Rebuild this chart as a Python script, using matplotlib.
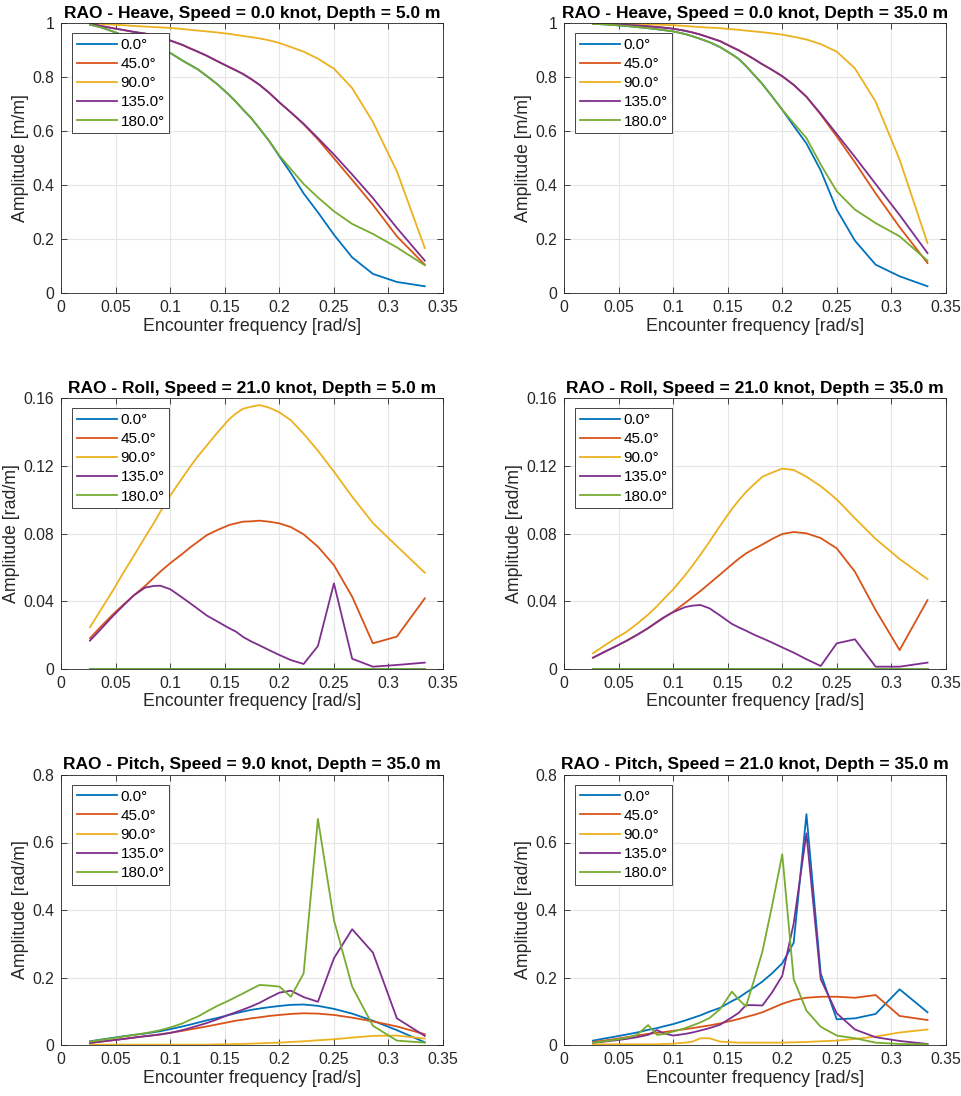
import matplotlib
matplotlib.use("Agg")
import matplotlib.pyplot as plt
from matplotlib.ticker import FixedLocator

plt.rcParams['font.family'] = ['Liberation Sans', 'DejaVu Sans']

freq = [0.0263, 0.0364, 0.0471, 0.0571, 0.0667, 0.0769, 0.0851, 0.0909, 0.1000,
        0.1111, 0.1176, 0.1250, 0.1333, 0.1429, 0.1538, 0.1600, 0.1667, 0.1739,
        0.1818, 0.1905, 0.2000, 0.2105, 0.2222, 0.2353, 0.2500, 0.2667, 0.2857,
        0.3077, 0.3333]

headings = ["0.0°", "45.0°", "90.0°", "135.0°", "180.0°"]
colors = ["#0072BD", "#D95319", "#EDB120", "#7E2F8E", "#77AC30"]

# ---- Heave, 0 knot, depth 5 m ----
heave5_0 = [0.995, 0.985, 0.97, 0.955, 0.94, 0.925, 0.912, 0.905, 0.89, 0.862, 0.847, 0.83,
            0.805, 0.775, 0.735, 0.71, 0.68, 0.65, 0.61, 0.565, 0.507, 0.445, 0.37, 0.30,
            0.217, 0.133, 0.072, 0.042, 0.026]
heave5_45 = [1.0, 0.99, 0.982, 0.975, 0.968, 0.962, 0.955, 0.948, 0.936, 0.92, 0.908, 0.895,
             0.88, 0.86, 0.838, 0.826, 0.812, 0.794, 0.772, 0.743, 0.707, 0.67, 0.626, 0.57,
             0.50, 0.42, 0.328, 0.211, 0.106]
heave5_90 = [1.0, 0.998, 0.995, 0.993, 0.99, 0.988, 0.986, 0.985, 0.983, 0.979, 0.976, 0.973,
             0.97, 0.966, 0.961, 0.957, 0.953, 0.949, 0.944, 0.937, 0.927, 0.912, 0.895, 0.869,
             0.832, 0.76, 0.635, 0.452, 0.168]
heave5_135 = [1.0, 0.99, 0.982, 0.975, 0.968, 0.962, 0.955, 0.948, 0.936, 0.92, 0.908, 0.895,
              0.88, 0.86, 0.838, 0.826, 0.812, 0.794, 0.772, 0.743, 0.707, 0.67, 0.628, 0.575,
              0.514, 0.44, 0.353, 0.242, 0.121]
heave5_180 = [0.995, 0.985, 0.97, 0.955, 0.94, 0.925, 0.912, 0.905, 0.89, 0.862, 0.847, 0.83,
              0.805, 0.775, 0.735, 0.71, 0.68, 0.65, 0.61, 0.565, 0.51, 0.46, 0.405, 0.355,
              0.304, 0.257, 0.22, 0.17, 0.104]

# ---- Heave, 0 knot, depth 35 m ----
heave35_0 = [0.998, 0.996, 0.993, 0.99, 0.986, 0.982, 0.978, 0.975, 0.97, 0.96, 0.952, 0.942,
             0.93, 0.912, 0.885, 0.868, 0.842, 0.81, 0.775, 0.73, 0.68, 0.62, 0.555, 0.455,
             0.31, 0.195, 0.106, 0.063, 0.026]
heave35_45 = [1.0, 0.998, 0.996, 0.994, 0.992, 0.989, 0.986, 0.984, 0.98, 0.972, 0.966, 0.958,
              0.947, 0.934, 0.912, 0.9, 0.885, 0.868, 0.848, 0.828, 0.804, 0.772, 0.728, 0.662,
              0.581, 0.485, 0.37, 0.245, 0.112]
heave35_90 = [1.0, 1.0, 0.999, 0.998, 0.997, 0.996, 0.995, 0.994, 0.993, 0.99, 0.988, 0.986,
              0.984, 0.982, 0.978, 0.976, 0.973, 0.97, 0.967, 0.963, 0.958, 0.95, 0.94, 0.923,
              0.895, 0.833, 0.71, 0.495, 0.186]
heave35_135 = [1.0, 0.998, 0.996, 0.994, 0.992, 0.989, 0.986, 0.984, 0.98, 0.972, 0.966, 0.958,
               0.947, 0.934, 0.912, 0.9, 0.885, 0.868, 0.848, 0.828, 0.804, 0.772, 0.728, 0.665,
               0.59, 0.505, 0.405, 0.29, 0.149]
heave35_180 = [0.998, 0.996, 0.993, 0.99, 0.986, 0.982, 0.978, 0.975, 0.97, 0.96, 0.952, 0.942,
               0.93, 0.912, 0.885, 0.868, 0.842, 0.81, 0.775, 0.73, 0.68, 0.63, 0.575, 0.477,
               0.378, 0.31, 0.26, 0.211, 0.121]

# ---- Roll, 21 knot, depth 5 m ----
roll5_0 = [0.0] * 29
roll5_45 = [0.018, 0.025, 0.032, 0.038, 0.0435, 0.049, 0.054, 0.0575, 0.0625, 0.068, 0.0715,
            0.075, 0.079, 0.082, 0.085, 0.086, 0.087, 0.0872, 0.0876, 0.087, 0.086, 0.0838,
            0.0795, 0.0722, 0.0613, 0.0426, 0.015, 0.019, 0.0416]
roll5_90 = [0.0245, 0.035, 0.046, 0.057, 0.067, 0.078, 0.0865, 0.093, 0.1025, 0.113, 0.119,
            0.1255, 0.132, 0.1395, 0.1475, 0.151, 0.1538, 0.155, 0.156, 0.1545, 0.1517, 0.147,
            0.139, 0.129, 0.1166, 0.1018, 0.0862, 0.0725, 0.0568]
roll5_135 = [0.0166, 0.0235, 0.031, 0.0375, 0.0435, 0.048, 0.049, 0.0491, 0.047, 0.042, 0.039,
             0.0355, 0.0315, 0.028, 0.024, 0.022, 0.0188, 0.0162, 0.0138, 0.011, 0.0081,
             0.0051, 0.0028, 0.0134, 0.0505, 0.0059, 0.0012, 0.0022, 0.0036]
roll5_180 = [0.0] * 29

# ---- Roll, 21 knot, depth 35 m ----
roll35_0 = [0.0] * 29
roll35_45 = [0.0065, 0.0098, 0.0132, 0.0165, 0.02, 0.024, 0.0275, 0.03, 0.0337, 0.039, 0.0423,
             0.046, 0.0505, 0.0557, 0.0617, 0.065, 0.0682, 0.0708, 0.0735, 0.0767, 0.0797,
             0.0809, 0.0801, 0.0773, 0.0712, 0.0574, 0.0347, 0.011, 0.0406]
roll35_90 = [0.0091, 0.0135, 0.018, 0.0218, 0.0265, 0.032, 0.037, 0.041, 0.047, 0.0555, 0.061,
             0.0675, 0.0752, 0.0845, 0.0945, 0.0995, 0.1045, 0.109, 0.1136, 0.116, 0.1184,
             0.1176, 0.1136, 0.108, 0.1002, 0.089, 0.0768, 0.0649, 0.053]
roll35_135 = [0.0065, 0.0098, 0.0132, 0.0165, 0.02, 0.024, 0.0277, 0.0302, 0.0335, 0.0365,
              0.0373, 0.0377, 0.0357, 0.0315, 0.0265, 0.0245, 0.0225, 0.0202, 0.018, 0.0155,
              0.0126, 0.0095, 0.0056, 0.0016, 0.015, 0.0174, 0.0012, 0.0012, 0.0036]
roll35_180 = [0.0] * 29

# ---- Pitch, 9 knot, depth 35 m ----
pitch9_0 = [0.011, 0.016, 0.021, 0.026, 0.03, 0.034, 0.038, 0.041, 0.047, 0.055, 0.06, 0.066,
            0.073, 0.08, 0.089, 0.094, 0.099, 0.104, 0.108, 0.112, 0.1156, 0.119, 0.12, 0.116,
            0.107, 0.093, 0.072, 0.044, 0.008]
pitch9_45 = [0.006, 0.01, 0.014, 0.018, 0.022, 0.026, 0.029, 0.032, 0.036, 0.042, 0.046, 0.05,
             0.055, 0.061, 0.068, 0.072, 0.075, 0.079, 0.082, 0.086, 0.089, 0.092, 0.094,
             0.093, 0.089, 0.081, 0.07, 0.055, 0.032]
pitch9_90 = [0.001, 0.001, 0.001, 0.001, 0.001, 0.001, 0.001, 0.001, 0.001, 0.001, 0.001,
             0.001, 0.001, 0.002, 0.002, 0.003, 0.003, 0.004, 0.005, 0.006, 0.007, 0.009,
             0.011, 0.014, 0.017, 0.022, 0.027, 0.028, 0.019]
pitch9_135 = [0.006, 0.01, 0.014, 0.018, 0.022, 0.026, 0.029, 0.031, 0.036, 0.044, 0.05, 0.057,
              0.065, 0.076, 0.09, 0.097, 0.105, 0.114, 0.125, 0.14, 0.155, 0.161, 0.142,
              0.128, 0.257, 0.343, 0.274, 0.079, 0.027]
pitch9_180 = [0.01, 0.015, 0.02, 0.025, 0.03, 0.035, 0.04, 0.044, 0.052, 0.064, 0.074, 0.084,
              0.099, 0.1156, 0.132, 0.142, 0.153, 0.165, 0.178, 0.176, 0.173, 0.143, 0.212,
              0.67, 0.37, 0.173, 0.057, 0.013, 0.007]

# ---- Pitch, 21 knot, depth 35 m ----
pitch21_0 = [0.013, 0.019, 0.025, 0.031, 0.037, 0.045, 0.05, 0.055, 0.062, 0.073, 0.08, 0.088,
             0.099, 0.11, 0.13, 0.14, 0.155, 0.17, 0.188, 0.212, 0.242, 0.303, 0.684, 0.212,
             0.076, 0.079, 0.092, 0.165, 0.097]
pitch21_45 = [0.009, 0.013, 0.018, 0.023, 0.028, 0.033, 0.036, 0.038, 0.042, 0.047, 0.05,
              0.054, 0.058, 0.064, 0.072, 0.077, 0.083, 0.089, 0.097, 0.109, 0.122, 0.133,
              0.14, 0.143, 0.143, 0.14, 0.148, 0.086, 0.074]
pitch21_90 = [0.002, 0.002, 0.002, 0.002, 0.002, 0.002, 0.002, 0.003, 0.004, 0.007, 0.01,
              0.02, 0.02, 0.01, 0.008, 0.007, 0.007, 0.007, 0.007, 0.007, 0.007, 0.008, 0.009,
              0.011, 0.013, 0.018, 0.025, 0.037, 0.046]
pitch21_135 = [0.007, 0.01, 0.014, 0.018, 0.023, 0.03, 0.044, 0.035, 0.028, 0.033, 0.037,
               0.043, 0.05, 0.06, 0.082, 0.095, 0.118, 0.118, 0.117, 0.155, 0.205, 0.36,
               0.627, 0.195, 0.094, 0.046, 0.023, 0.012, 0.003]
pitch21_180 = [0.007, 0.011, 0.016, 0.021, 0.03, 0.059, 0.03, 0.032, 0.04, 0.05, 0.058, 0.067,
               0.08, 0.106, 0.158, 0.135, 0.114, 0.19, 0.277, 0.41, 0.565, 0.195, 0.102, 0.054,
               0.028, 0.02, 0.007, 0.003, 0.002]

panels = [
    ("RAO - Heave, Speed = 0.0 knot, Depth = 5.0 m", "Amplitude [m/m]",
     [heave5_0, heave5_45, heave5_90, heave5_135, heave5_180],
     [0, 0.2, 0.4, 0.6, 0.8, 1], ["0", "0.2", "0.4", "0.6", "0.8", "1"], 1.0),
    ("RAO - Heave, Speed = 0.0 knot, Depth = 35.0 m", "Amplitude [m/m]",
     [heave35_0, heave35_45, heave35_90, heave35_135, heave35_180],
     [0, 0.2, 0.4, 0.6, 0.8, 1], ["0", "0.2", "0.4", "0.6", "0.8", "1"], 1.0),
    ("RAO - Roll, Speed = 21.0 knot, Depth = 5.0 m", "Amplitude [rad/m]",
     [roll5_0, roll5_45, roll5_90, roll5_135, roll5_180],
     [0, 0.04, 0.08, 0.12, 0.16], ["0", "0.04", "0.08", "0.12", "0.16"], 0.16),
    ("RAO - Roll, Speed = 21.0 knot, Depth = 35.0 m", "Amplitude [rad/m]",
     [roll35_0, roll35_45, roll35_90, roll35_135, roll35_180],
     [0, 0.04, 0.08, 0.12, 0.16], ["0", "0.04", "0.08", "0.12", "0.16"], 0.16),
    ("RAO - Pitch, Speed = 9.0 knot, Depth = 35.0 m", "Amplitude [rad/m]",
     [pitch9_0, pitch9_45, pitch9_90, pitch9_135, pitch9_180],
     [0, 0.2, 0.4, 0.6, 0.8], ["0", "0.2", "0.4", "0.6", "0.8"], 0.8),
    ("RAO - Pitch, Speed = 21.0 knot, Depth = 35.0 m", "Amplitude [rad/m]",
     [pitch21_0, pitch21_45, pitch21_90, pitch21_135, pitch21_180],
     [0, 0.2, 0.4, 0.6, 0.8], ["0", "0.2", "0.4", "0.6", "0.8"], 0.8),
]

xticks = [0, 0.05, 0.1, 0.15, 0.2, 0.25, 0.3, 0.35]
xticklabels = ["0", "0.05", "0.1", "0.15", "0.2", "0.25", "0.3", "0.35"]

W, H = 961, 1096
fig = plt.figure(figsize=(W / 100, H / 100), dpi=100)

lefts = [61.3, 564.3]
rights = [443.0, 945.7]
tops = [23.3, 398.3, 775.0]
bottoms = [293.3, 668.7, 1045.0]

axc = "#262626"
for i, (title, ylabel, series, yt, ytl, ymax) in enumerate(panels):
    r, c = divmod(i, 2)
    ax = fig.add_axes([lefts[c] / W, 1 - bottoms[r] / H,
                       (rights[c] - lefts[c]) / W, (bottoms[r] - tops[r]) / H])
    for s, lab, col in zip(series, headings, colors):
        ax.plot(freq, s, color=col, lw=1.3, label=lab)
    ax.set_xlim(0, 0.35)
    ax.set_ylim(0, ymax)
    ax.xaxis.set_major_locator(FixedLocator(xticks))
    ax.set_xticklabels(xticklabels)
    ax.yaxis.set_major_locator(FixedLocator(yt))
    ax.set_yticklabels(ytl)
    ax.grid(True, color="#e6e6e6", lw=0.8)
    ax.set_axisbelow(True)
    ax.tick_params(direction="in", length=4, width=0.6, colors=axc, labelsize=11.3,
                   top=True, right=True, labelcolor=axc, pad=5)
    for sp in ax.spines.values():
        sp.set_color(axc)
        sp.set_linewidth(0.6)
    ax.set_title(title, fontsize=12.5, fontweight="bold", pad=4, color="black")
    ax.set_xlabel("Encounter frequency [rad/s]", fontsize=12.8, color=axc, labelpad=2)
    ax.set_ylabel(ylabel, fontsize=12.8, color=axc, labelpad=2.5)
    leg = ax.legend(loc="upper left", bbox_to_anchor=(0.029, 0.963), fontsize=11,
                    handlelength=2.6, handletextpad=0.25, labelspacing=0.34,
                    borderpad=0.3, borderaxespad=0, fancybox=False, framealpha=1,
                    handleheight=0.7)
    leg.get_frame().set_edgecolor("#262626")
    leg.get_frame().set_linewidth(0.6)

fig.savefig("out.png", dpi=100)
